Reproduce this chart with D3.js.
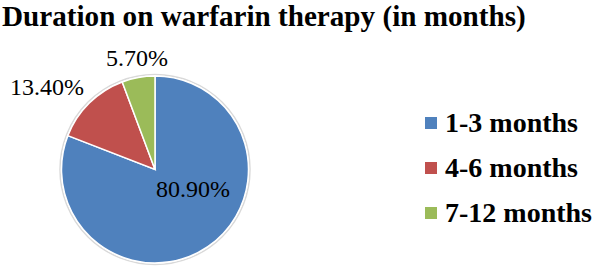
<!DOCTYPE html>
<html>
<head>
<meta charset="utf-8">
<script src="https://cdn.jsdelivr.net/npm/d3@7"></script>
<style>
  body { margin: 0; background: #fff; }
  svg { display: block; }
</style>
</head>
<body>
<div class="Chart"></div>
<script>
var categories = ["1-3 months", "4-6 months", "7-12 months"];
var shares = [80.9, 13.4, 5.7];
var sliceLabels = ["80.90%", "13.40%", "5.70%"];
var colors = ["#4f81bd", "#c0504d", "#9bbb59"];
var title = "Duration on warfarin therapy (in months)";

var width = 600, height = 275;
var serif = "'Liberation Serif', 'Times New Roman', Times, 'DejaVu Serif', serif";

var svg = d3.select('.Chart').append('svg')
	.attr('width', width)
	.attr('height', height)
	.attr('font-family', serif);

//Title, stretched to the width it has in the picture
var titleText = svg.append('text')
	.attr('x', 2)
	.attr('y', 26)
	.attr('font-weight', 'bold')
	.attr('font-size', 26)
	.text(title);
var tw = titleText.node().getComputedTextLength();
titleText.attr('font-size', 26 * 524 / tw);

//Pie
var cx = 155, cy = 169.5, radius = 93.5;

var pie = d3.pie().sort(null).value(function(d) { return d; });
var arc = d3.arc().innerRadius(0).outerRadius(radius);

var g = svg.append('g').attr('transform', 'translate(' + cx + ',' + cy + ')');

g.append('circle')
	.attr('r', radius + 1.5)
	.style('fill', 'none')
	.style('stroke', '#d9d9d9')
	.style('stroke-width', 1.5);

var arcs = pie(shares);

g.selectAll('.slice')
	.data(arcs)
	.enter().append('path')
	.attr('class', 'slice')
	.attr('d', arc)
	.style('fill', function(d, i) { return colors[i]; })
	.style('stroke', '#fff')
	.style('stroke-width', 1.5);

//Labels: the big slice is labelled inside, the small ones outside
var labelPos = [
	{ x: 193, y: 197, anchor: 'middle' },
	{ x: 10, y: 95, anchor: 'start' },
	{ x: 106, y: 66, anchor: 'start' }
];
svg.selectAll('.pct')
	.data(sliceLabels)
	.enter().append('text')
	.attr('class', 'pct')
	.attr('x', function(d, i) { return labelPos[i].x; })
	.attr('y', function(d, i) { return labelPos[i].y; })
	.attr('text-anchor', function(d, i) { return labelPos[i].anchor; })
	.attr('font-size', 24)
	.text(function(d) { return d; });

//Legend
var legend = svg.selectAll('.legend')
	.data(categories)
	.enter().append('g')
	.attr('class', 'legend')
	.attr('transform', function(d, i) { return 'translate(425,' + (117 + i * 45) + ')'; });

legend.append('rect')
	.attr('width', 12)
	.attr('height', 12)
	.style('fill', function(d, i) { return colors[i]; });

legend.append('text')
	.attr('x', 20)
	.attr('y', 15)
	.attr('font-size', 28)
	.attr('font-weight', 'bold')
	.text(function(d) { return d; });
</script>
</body>
</html>
